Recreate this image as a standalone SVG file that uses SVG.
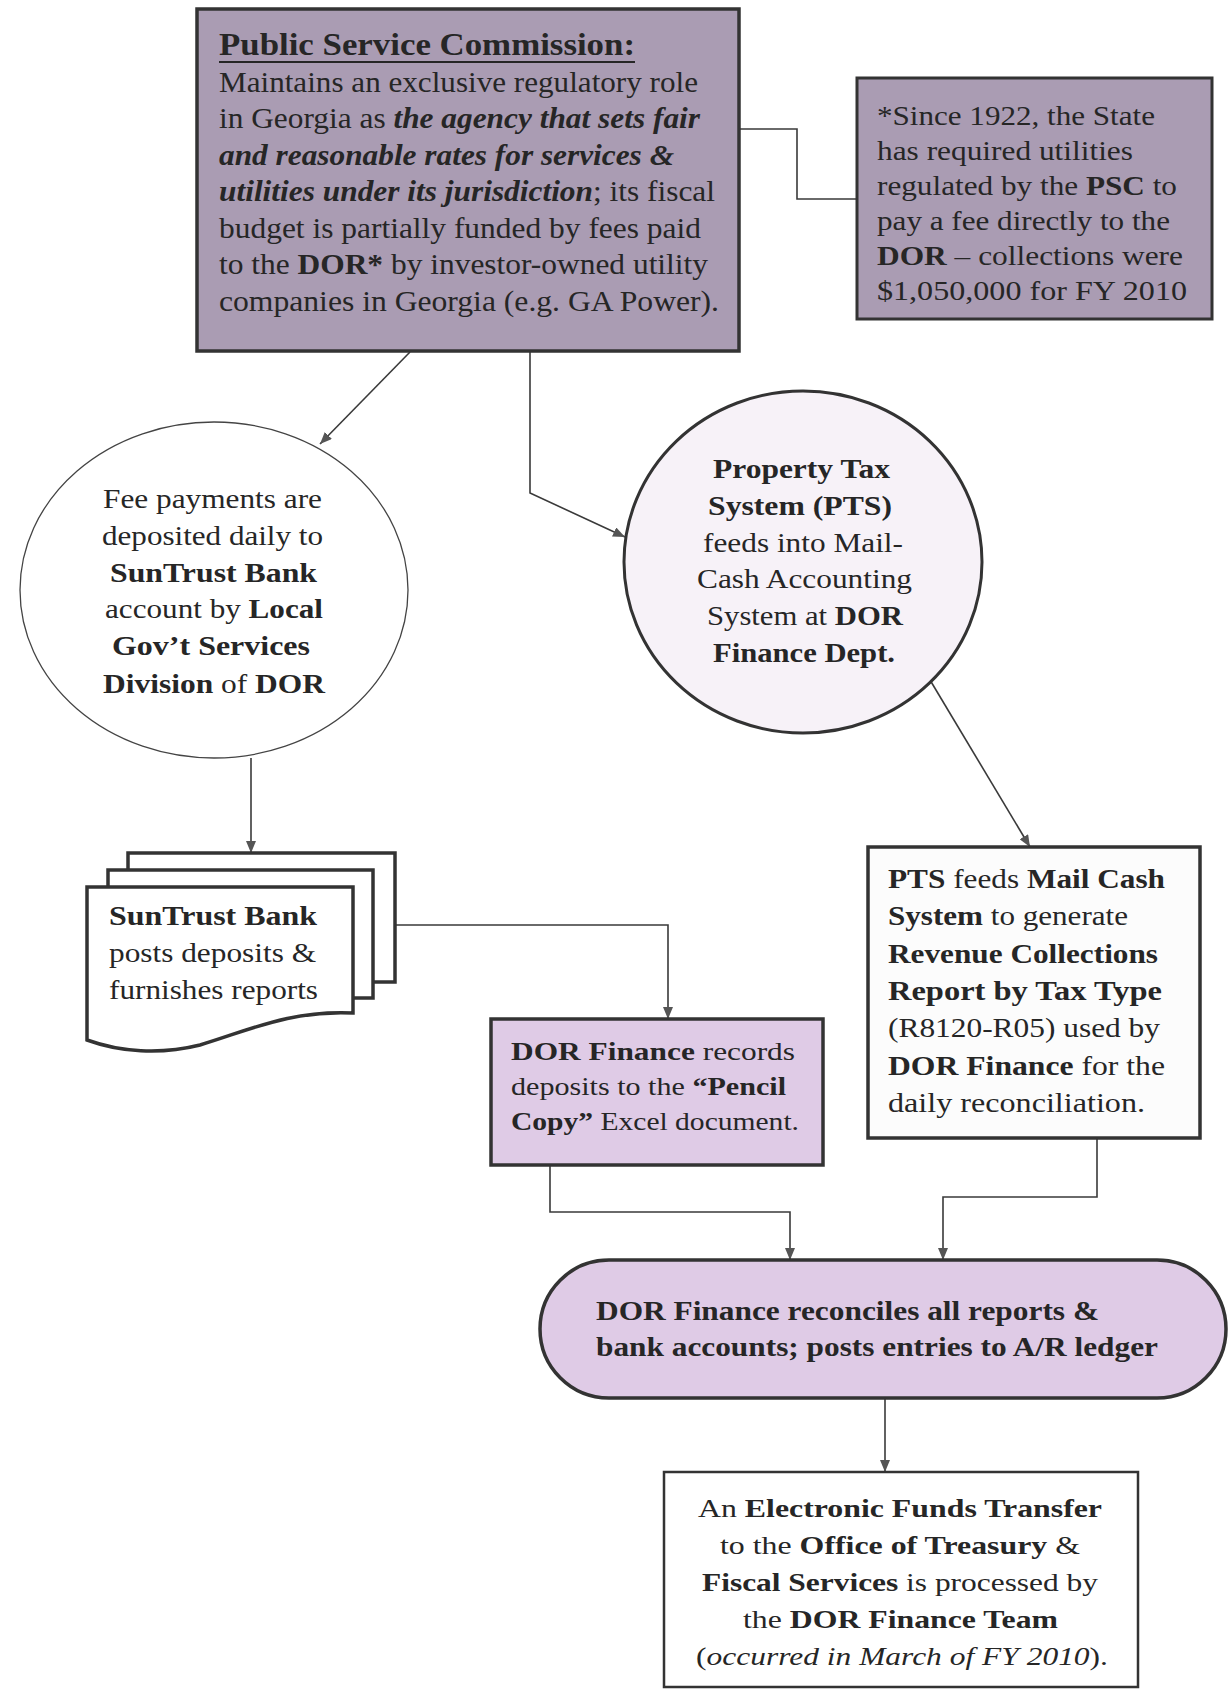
<svg xmlns="http://www.w3.org/2000/svg" width="1230" height="1689" viewBox="0 0 1230 1689" font-family="'Liberation Serif', 'Times New Roman', Times, serif">
<defs>
<marker id="ah" viewBox="0 0 12 10" markerWidth="12" markerHeight="10" refX="12" refY="5" orient="auto" markerUnits="userSpaceOnUse"><path d="M0,0 L12,5 L0,10 z" fill="#555"/></marker>
</defs>
<style>
text{font-family:"Liberation Serif","Times New Roman",Times,serif;fill:#262626}
.b{font-weight:bold}
.i{font-style:italic}
.conn{fill:none;stroke:#3a3a3a;stroke-width:1.6}
.arr{marker-end:url(#ah)}
.thick{stroke:#333;stroke-width:3.5}
.purple{fill:#aa9cb3}
.lilac{fill:#dfcbe6}
</style>
<rect width="1230" height="1689" fill="#ffffff"/>

<g id="connectors">
<polyline class="conn" points="739,129 797,129 797,199 857,199"/>
<line class="conn arr" x1="410" y1="352" x2="320" y2="444"/>
<polyline class="conn arr" points="530,352 530,493 625,537"/>
<line class="conn arr" x1="251" y1="758" x2="251" y2="853"/>
<line class="conn arr" x1="930" y1="680" x2="1030" y2="847"/>
<polyline class="conn arr" points="395,925 668,925 668,1019"/>
<polyline class="conn arr" points="550,1165 550,1212 790,1212 790,1260"/>
<polyline class="conn arr" points="1097,1138 1097,1197 943,1197 943,1260"/>
<line class="conn arr" x1="885" y1="1398" x2="885" y2="1472"/>
</g>

<g id="psc">
<rect x="197" y="9" width="542" height="342" class="purple thick"/>
<text x="219" y="55" class="b" font-size="31" textLength="416" lengthAdjust="spacingAndGlyphs">Public Service Commission:</text>
<line x1="219" y1="62" x2="635" y2="62" stroke="#262626" stroke-width="2"/>
<text x="219" y="92" font-size="29" textLength="479" lengthAdjust="spacingAndGlyphs">Maintains an exclusive regulatory role</text>
<text x="219" y="128" font-size="29" textLength="481" lengthAdjust="spacingAndGlyphs">in Georgia as <tspan class="b i">the agency that sets fair</tspan></text>
<text x="219" y="165" font-size="29" class="b i" textLength="455" lengthAdjust="spacingAndGlyphs">and reasonable rates for services &amp;</text>
<text x="219" y="201" font-size="29" textLength="496" lengthAdjust="spacingAndGlyphs"><tspan class="b i">utilities under its jurisdiction</tspan>; its fiscal</text>
<text x="219" y="238" font-size="29" textLength="482" lengthAdjust="spacingAndGlyphs">budget is partially funded by fees paid</text>
<text x="219" y="274" font-size="29" textLength="489" lengthAdjust="spacingAndGlyphs">to the <tspan class="b">DOR*</tspan> by investor-owned utility</text>
<text x="219" y="311" font-size="29" textLength="500" lengthAdjust="spacingAndGlyphs">companies in Georgia (e.g. GA Power).</text>
</g>

<g id="footnote">
<rect x="857" y="78" width="355" height="241" class="purple" stroke="#333" stroke-width="3"/>
<text x="877" y="125" font-size="27" textLength="278" lengthAdjust="spacingAndGlyphs">*Since 1922, the State</text>
<text x="877" y="160" font-size="27" textLength="256" lengthAdjust="spacingAndGlyphs">has required utilities</text>
<text x="877" y="195" font-size="27" textLength="300" lengthAdjust="spacingAndGlyphs">regulated by the <tspan class="b">PSC</tspan> to</text>
<text x="877" y="230" font-size="27" textLength="293" lengthAdjust="spacingAndGlyphs">pay a fee directly to the</text>
<text x="877" y="265" font-size="27" textLength="306" lengthAdjust="spacingAndGlyphs"><tspan class="b">DOR</tspan> – collections were</text>
<text x="877" y="300" font-size="27" textLength="310" lengthAdjust="spacingAndGlyphs">$1,050,000 for FY 2010</text>
</g>

<g id="fee-payments">
<ellipse cx="214" cy="590" rx="194" ry="168" fill="#ffffff" stroke="#444" stroke-width="1.3"/>
<text x="103" y="508" font-size="28" textLength="219" lengthAdjust="spacingAndGlyphs">Fee payments are</text>
<text x="102" y="545" font-size="28" textLength="221" lengthAdjust="spacingAndGlyphs">deposited daily to</text>
<text x="110" y="582" font-size="28" class="b" textLength="207" lengthAdjust="spacingAndGlyphs">SunTrust Bank</text>
<text x="105" y="618" font-size="28" textLength="218" lengthAdjust="spacingAndGlyphs">account by <tspan class="b">Local</tspan></text>
<text x="112" y="655" font-size="28" class="b" textLength="198" lengthAdjust="spacingAndGlyphs">Gov’t Services</text>
<text x="103" y="693" font-size="28" textLength="222" lengthAdjust="spacingAndGlyphs"><tspan class="b">Division</tspan> of <tspan class="b">DOR</tspan></text>
</g>

<g id="pts">
<ellipse cx="803" cy="562" rx="179" ry="171" fill="#f7f2f8" stroke="#333" stroke-width="3"/>
<text x="713" y="478" font-size="28" class="b" textLength="177" lengthAdjust="spacingAndGlyphs">Property Tax</text>
<text x="708" y="515" font-size="28" class="b" textLength="184" lengthAdjust="spacingAndGlyphs">System (PTS)</text>
<text x="703" y="552" font-size="28" textLength="200" lengthAdjust="spacingAndGlyphs">feeds into Mail-</text>
<text x="697" y="588" font-size="28" textLength="215" lengthAdjust="spacingAndGlyphs">Cash Accounting</text>
<text x="707" y="625" font-size="28" textLength="196" lengthAdjust="spacingAndGlyphs">System at <tspan class="b">DOR</tspan></text>
<text x="713" y="662" font-size="28" class="b" textLength="182" lengthAdjust="spacingAndGlyphs">Finance Dept.</text>
</g>

<g id="suntrust">
<rect x="128" y="853" width="267" height="129" fill="#ffffff" class="thick"/>
<rect x="108" y="870" width="265" height="128" fill="#ffffff" class="thick"/>
<path d="M87,887 H353 V1013 C290,1010 250,1030 200,1045 C160,1055 120,1052 87,1040 Z" fill="#ffffff" class="thick"/>
<text x="109" y="925" font-size="28" class="b" textLength="208" lengthAdjust="spacingAndGlyphs">SunTrust Bank</text>
<text x="109" y="962" font-size="28" textLength="207" lengthAdjust="spacingAndGlyphs">posts deposits &amp;</text>
<text x="109" y="999" font-size="28" textLength="209" lengthAdjust="spacingAndGlyphs">furnishes reports</text>
</g>

<g id="pencil-copy">
<rect x="491" y="1019" width="332" height="146" class="lilac thick"/>
<text x="511" y="1060" font-size="26" textLength="284" lengthAdjust="spacingAndGlyphs"><tspan class="b">DOR Finance</tspan> records</text>
<text x="511" y="1095" font-size="26" textLength="275" lengthAdjust="spacingAndGlyphs">deposits to the <tspan class="b">“Pencil</tspan></text>
<text x="511" y="1130" font-size="26" textLength="288" lengthAdjust="spacingAndGlyphs"><tspan class="b">Copy”</tspan> Excel document.</text>
</g>

<g id="mail-cash">
<rect x="868" y="847" width="332" height="291" fill="#fcfcfc" class="thick"/>
<text x="888" y="888" font-size="28" textLength="277" lengthAdjust="spacingAndGlyphs"><tspan class="b">PTS</tspan> feeds <tspan class="b">Mail Cash</tspan></text>
<text x="888" y="925" font-size="28" textLength="240" lengthAdjust="spacingAndGlyphs"><tspan class="b">System</tspan> to generate</text>
<text x="888" y="963" font-size="28" class="b" textLength="270" lengthAdjust="spacingAndGlyphs">Revenue Collections</text>
<text x="888" y="1000" font-size="28" class="b" textLength="274" lengthAdjust="spacingAndGlyphs">Report by Tax Type</text>
<text x="888" y="1037" font-size="28" textLength="272" lengthAdjust="spacingAndGlyphs">(R8120-R05) used by</text>
<text x="888" y="1075" font-size="28" textLength="277" lengthAdjust="spacingAndGlyphs"><tspan class="b">DOR Finance</tspan> for the</text>
<text x="888" y="1112" font-size="28" textLength="257" lengthAdjust="spacingAndGlyphs">daily reconciliation.</text>
</g>

<g id="reconcile">
<rect x="540" y="1260" width="686" height="138" rx="69" ry="69" class="lilac thick"/>
<text x="596" y="1320" font-size="28" class="b" textLength="503" lengthAdjust="spacingAndGlyphs">DOR Finance reconciles all reports &amp;</text>
<text x="596" y="1356" font-size="28" class="b" textLength="562" lengthAdjust="spacingAndGlyphs">bank accounts; posts entries to A/R ledger</text>
</g>

<g id="eft">
<rect x="664" y="1472" width="474" height="215" fill="#ffffff" stroke="#333" stroke-width="2.5"/>
<text x="698" y="1517" font-size="26" textLength="404" lengthAdjust="spacingAndGlyphs">An <tspan class="b">Electronic Funds Transfer</tspan></text>
<text x="720" y="1554" font-size="26" textLength="360" lengthAdjust="spacingAndGlyphs">to the <tspan class="b">Office of Treasury</tspan> &amp;</text>
<text x="702" y="1591" font-size="26" textLength="396" lengthAdjust="spacingAndGlyphs"><tspan class="b">Fiscal Services</tspan> is processed by</text>
<text x="743" y="1628" font-size="26" textLength="315" lengthAdjust="spacingAndGlyphs">the <tspan class="b">DOR Finance Team</tspan></text>
<text x="696" y="1665" font-size="26" textLength="412" lengthAdjust="spacingAndGlyphs">(<tspan class="i">occurred in March of FY 2010</tspan>).</text>
</g>
</svg>
